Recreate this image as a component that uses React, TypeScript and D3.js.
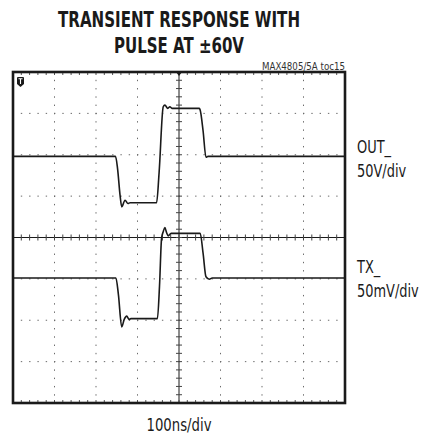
import * as d3 from "d3";

// scope trace samples: time in ns (100ns/div), OUT_ in volts (50V/div), TX_ in mV (50mV/div)
const outTimeNs = [0, 247, 252, 258, 262, 270, 277, 282, 346, 352, 362, 366, 373, 378, 383, 449, 451, 458, 465, 470, 800];
const outVolts = [0, 0, -15, -47, -61, -53, -57, -56, -56, -20, 60, 62, 58, 60, 58, 58, 56, 31, -1, 0, 0];
const txTimeNs = [0, 248, 254, 262, 268, 274, 280, 284, 348, 353, 358, 362, 366, 370, 374, 381, 451, 458, 465, 473, 480, 800];
const txMilliVolts = [0, 0, -20, -59, -50, -46, -50, -49, -49, -10, 48, 56, 61, 55, 51, 54, 54, 30, 1.5, -1.5, 0, 0];

const titleLines = ["TRANSIENT RESPONSE WITH", "PULSE AT \u00b160V"];
const channelLabels = [
  { name: "OUT_", scale: "50V/div" },
  { name: "TX_", scale: "50mV/div" },
];
const timeLabel = "100ns/div";
const tocLabel = "MAX4805/5A toc15";

const W = 422;
const H = 434;
const PLOT = { left: 13, top: 72, right: 345, bottom: 403 };
const DIVS = 8;
const OUT_VOLTS_PER_DIV = 50;
const TX_MV_PER_DIV = 50;
const OUT_OFFSET_DIV = 1.96;
const TX_OFFSET_DIV = -0.98;
const INK = "#1a1a1a";
const GRID = "#6a6a6a";
const NARROW = "'Liberation Sans Narrow', 'DejaVu Sans Condensed', 'Roboto Condensed', Arial, sans-serif";
const LABEL_SQUEEZE = 0.8;

type Pt = { t: number; v: number };

export default function App() {
  const x = d3.scaleLinear().domain([0, 800]).range([PLOT.left, PLOT.right]);
  const y = d3.scaleLinear().domain([-DIVS / 2, DIVS / 2]).range([PLOT.bottom, PLOT.top]);
  const xDiv = d3.scaleLinear().domain([0, DIVS]).range([PLOT.left, PLOT.right]);

  const outData: Pt[] = outTimeNs.map((t, i) => ({ t, v: OUT_OFFSET_DIV + outVolts[i] / OUT_VOLTS_PER_DIV }));
  const txData: Pt[] = txTimeNs.map((t, i) => ({ t, v: TX_OFFSET_DIV + txMilliVolts[i] / TX_MV_PER_DIV }));

  const line = d3
    .line<Pt>()
    .x((d) => x(d.t))
    .y((d) => y(d.v))
    .curve(d3.curveMonotoneX);

  const majors = d3.range(1, DIVS); // interior division lines
  const minors = d3.range(0, DIVS * 5 + 1).map((i) => i / 5);
  const yMinors = minors.map((m) => m - DIVS / 2);
  const cx = xDiv(DIVS / 2);
  const cy = y(0);

  return (
    <svg width={W} height={H} style={{ display: "block", position: "absolute", left: 0, top: 0 }}>
      <rect width={W} height={H} fill="#fff" />

      {/* title */}
      {titleLines.map((t, i) => (
        <text
          key={t}
          x={179}
          y={27 + i * 25.5}
          textAnchor="middle"
          fontFamily={NARROW}
          fontWeight="bold"
          fontSize={22}
          fill={INK}
          textLength={i === 0 ? 242 : 130}
          lengthAdjust="spacingAndGlyphs"
        >
          {t}
        </text>
      ))}
      <text
        x={PLOT.right}
        y={70}
        textAnchor="end"
        fontFamily={NARROW}
        fontSize={10}
        fill="#333"
        textLength={83}
        lengthAdjust="spacingAndGlyphs"
      >
        {tocLabel}
      </text>

      {/* dotted grid */}
      {majors
        .filter((m) => m !== DIVS / 2)
        .map((m) => (
          <g key={`g${m}`}>
            {minors.map((n) => (
              <rect key={`v${n}`} x={xDiv(m) - 0.5} y={y(n - DIVS / 2) - 0.5} width={1} height={1.4} fill={GRID} />
            ))}
            {minors.map((n) => (
              <rect key={`h${n}`} x={xDiv(n) - 0.5} y={y(m - DIVS / 2) - 0.5} width={1.4} height={1} fill={GRID} />
            ))}
          </g>
        ))}

      {/* center cross with minor ticks */}
      <line x1={PLOT.left} x2={PLOT.right} y1={cy} y2={cy} stroke={INK} strokeWidth={1.2} />
      <line x1={cx} x2={cx} y1={PLOT.top} y2={PLOT.bottom} stroke={INK} strokeWidth={1} />
      {minors.map((n) => (
        <line key={`cx${n}`} x1={xDiv(n)} x2={xDiv(n)} y1={cy - 3} y2={cy + 3} stroke="#444" strokeWidth={1} />
      ))}
      {yMinors.map((n) => (
        <line key={`cy${n}`} x1={cx - 3} x2={cx + 3} y1={y(n)} y2={y(n)} stroke="#444" strokeWidth={1} />
      ))}

      {/* edge ticks top / bottom */}
      {minors.map((n) => (
        <g key={`e${n}`}>
          <line x1={xDiv(n)} x2={xDiv(n)} y1={PLOT.top} y2={PLOT.top + 3} stroke="#555" strokeWidth={1} />
          <line x1={xDiv(n)} x2={xDiv(n)} y1={PLOT.bottom - 3} y2={PLOT.bottom} stroke="#555" strokeWidth={1} />
        </g>
      ))}

      {/* traces */}
      <path d={line(outData) ?? ""} fill="none" stroke={INK} strokeWidth={1.6} strokeLinejoin="round" />
      <path d={line(txData) ?? ""} fill="none" stroke={INK} strokeWidth={1.6} strokeLinejoin="round" />

      {/* frame */}
      <rect
        x={PLOT.left}
        y={PLOT.top}
        width={PLOT.right - PLOT.left}
        height={PLOT.bottom - PLOT.top}
        fill="none"
        stroke={INK}
        strokeWidth={2.6}
      />

      {/* trigger markers */}
      <path d={`M${cx - 3},${PLOT.top} L${cx + 3},${PLOT.top} L${cx},${PLOT.top + 4} Z`} fill={INK} />
      <g transform={`translate(${PLOT.left + 4},${PLOT.top + 5})`}>
        <path d="M0,1 Q0,0 1,0 L6,0 Q7,0 7,1 L7,7 L3.5,10 L0,7 Z" fill={INK} />
        <path d="M1.5,1.8 L5.5,1.8 M3.5,1.8 L3.5,7" stroke="#fff" strokeWidth={1.1} />
      </g>

      {/* channel labels, squeezed horizontally to mimic the condensed face */}
      {channelLabels.map((c, i) => (
        <g key={c.name} fontFamily={NARROW} fontSize={18} fill={INK}>
          <text transform={`translate(357,${153 + i * 120}) scale(${LABEL_SQUEEZE},1)`}>{c.name}</text>
          <text transform={`translate(357,${176.5 + i * 120}) scale(${LABEL_SQUEEZE},1)`}>{c.scale}</text>
        </g>
      ))}

      <text
        x={179}
        y={431}
        textAnchor="middle"
        fontFamily={NARROW}
        fontSize={18}
        fill={INK}
        textLength={65}
        lengthAdjust="spacingAndGlyphs"
      >
        {timeLabel}
      </text>
    </svg>
  );
}
